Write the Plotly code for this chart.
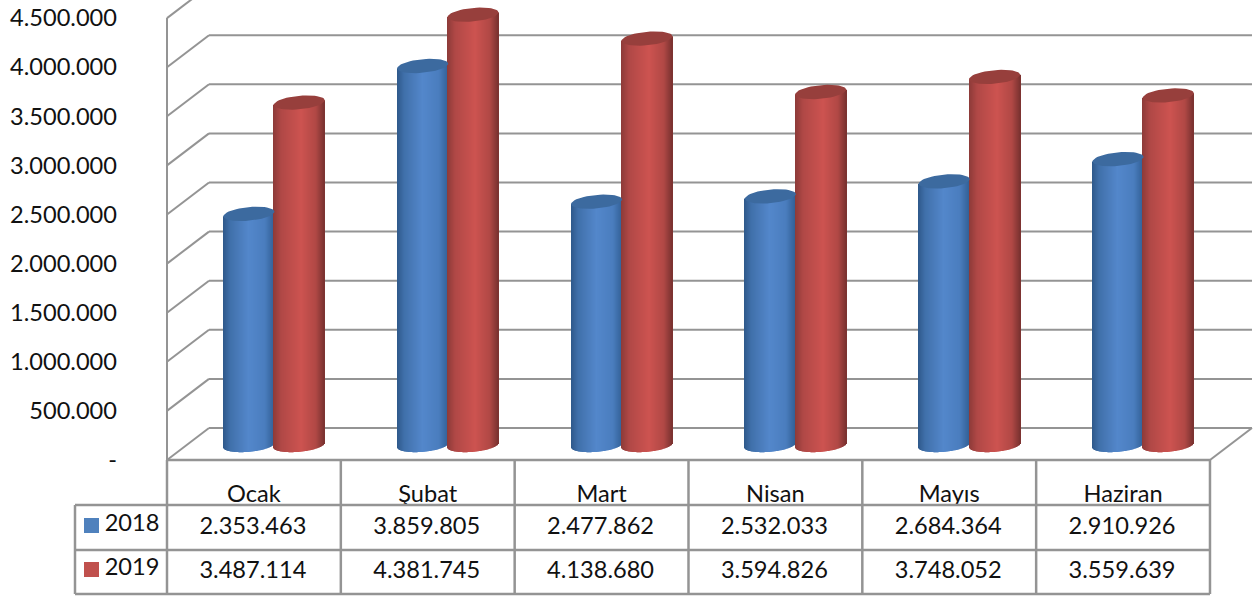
import numpy as np
import plotly.graph_objects as go

# ---- data ----
months = ["Ocak", "Şubat", "Mart", "Nisan", "Mayıs", "Haziran"]
values_2018 = [2353463, 3859805, 2477862, 2532033, 2684364, 2910926]
values_2019 = [3487114, 4381745, 4138680, 3594826, 3748052, 3559639]
y_ticks = [0, 500000, 1000000, 1500000, 2000000, 2500000, 3000000, 3500000, 4000000, 4500000]

W, H = 1258, 597
FONT = "Lato"
FS = 23.6
TXT = "#111111"
GRID = "#949494"
X0, CATW = 167.0, 173.83          # pixel of front-left corner, width of one category
Y0, PER = 460.0, 49.1 / 500000    # pixel of value 0 on the front plane, pixels per unit
DX, DY = 42.0, 32.0               # depth of the chart box


def fmt(v):
    return f"{v:,}".replace(",", ".")


def cat(px):
    """pixel x -> category coordinate"""
    return (px - X0) / CATW - 0.5


def val(py):
    """pixel y -> value coordinate"""
    return (Y0 - py) / PER


fig = go.Figure()


def ramp(stops, t):
    ts = [s[0] for s in stops]
    rgb = [np.interp(t, ts, [s[1][k] for s in stops]) for k in range(3)]
    return "rgb(%d,%d,%d)" % tuple(int(round(c)) for c in rgb)


def cylinders(name, values, centre_px, stops, cap):
    half, b, shear, depth = 25.5, 6.8, 0.09, 15.0
    n = int(half * 2)
    xs, ys, bases, offs, cols = [], [], [], [], []
    capx, capy = [], []
    for i, v in enumerate(values):
        for k in range(n):
            t = (k + 0.5) / n
            dx = (t * 2 - 1) * half
            ell = b * np.sqrt(max(0.0, 1 - (dx / half) ** 2))
            bottom = val(Y0 - depth - shear * dx + ell)
            top = v + val(Y0 - depth - shear * dx)
            xs.append(i)
            ys.append(top - bottom)
            bases.append(bottom)
            offs.append((centre_px + dx - 0.5) / CATW)
            cols.append(ramp(stops, t))
        th = np.linspace(0, 2 * np.pi, 49)
        cx = i + centre_px / CATW
        capx += list(cx + half * np.cos(th) / CATW) + [None]
        capy += list(v + val(Y0 - depth - shear * half * np.cos(th) - b * np.sin(th))) + [None]
    fig.add_trace(go.Bar(name=name, x=xs, y=ys, base=bases, offset=offs, width=1.02 / CATW,
                         marker=dict(color=cols, line=dict(width=0)),
                         hoverinfo="skip", showlegend=False))
    fig.add_trace(go.Scatter(x=capx, y=capy, mode="lines", fill="toself", fillcolor=cap,
                             line=dict(width=0, color=cap), hoverinfo="skip", showlegend=False))


BLUE = [(0, (46, 88, 138)), (0.14, (64, 112, 170)), (0.5, (83, 135, 203)), (0.82, (74, 125, 190)), (1, (50, 96, 150))]
RED = [(0, (140, 58, 56)), (0.16, (176, 72, 70)), (0.55, (205, 83, 80)), (0.84, (176, 72, 69)), (1, (122, 50, 48))]
cylinders("2018", values_2018, -5.0, BLUE, "#3c6a9f")
cylinders("2019", values_2019, 45.3, RED, "#973f3c")

# ---- chart box: wall and floor lines ----
shapes = []


def seg(x0, y0, x1, y1, w=2.0, layer="below"):
    shapes.append(dict(type="line", xref="x", yref="y", x0=cat(x0), y0=val(y0), x1=cat(x1), y1=val(y1),
                       line=dict(color=GRID, width=w), layer=layer))


XR = X0 + CATW * len(months)
for v in y_ticks:
    yf = Y0 - v * PER
    seg(X0, yf, X0 + DX, yf - DY)
    seg(X0 + DX, yf - DY, XR + DX, yf - DY)
seg(X0, Y0 - y_ticks[-1] * PER, X0, Y0)
seg(XR, Y0, XR + DX, Y0 - DY)

# ---- data table ----
R0, R1, R2 = 505.0, 550.0, 594.0
TL = 75.0
seg(X0, Y0, XR, Y0, 2.5)
for i in range(len(months) + 1):
    seg(X0 + CATW * i, Y0, X0 + CATW * i, R2, 2.5, "above")
seg(TL, R0, TL, R2, 2.5)
for r in (R0, R1, R2):
    seg(TL, r, XR, r, 2.5, "above")

for py, col in ((525.5, "#4f81bd"), (569.5, "#c0504d")):
    shapes.append(dict(type="rect", xref="x", yref="y", x0=cat(84), x1=cat(99), y0=val(py - 7.5), y1=val(py + 7.5),
                       fillcolor=col, line=dict(width=0)))

xc = list(range(len(months)))
for py, series in ((528.0, values_2018), (572.0, values_2019)):
    fig.add_trace(go.Scatter(x=[i - 1 / CATW for i in xc], y=[val(py)] * len(xc), text=[fmt(v) for v in series],
                             mode="text", textposition="middle center",
                             textfont=dict(family=FONT, size=FS, color=TXT),
                             hoverinfo="skip", showlegend=False, cliponaxis=False))
fig.add_trace(go.Scatter(x=[cat(132)] * 2, y=[val(525), val(569)], text=["2018", "2019"], mode="text",
                         textposition="middle center", textfont=dict(family=FONT, size=FS, color=TXT),
                         hoverinfo="skip", showlegend=False, cliponaxis=False))

fig.update_layout(
    width=W, height=H, margin=dict(l=0, r=0, t=0, b=0), autosize=False,
    paper_bgcolor="white", plot_bgcolor="white", barmode="overlay", shapes=shapes,
    font=dict(family=FONT, size=FS, color=TXT),
    xaxis=dict(range=[cat(0), cat(W)], domain=[0, 1], showgrid=False, zeroline=False, showline=False,
               ticks="", tickmode="array", tickvals=xc, ticktext=months, tickangle=0,
               anchor="free", position=(H - 477.5) / H, fixedrange=True,
               tickfont=dict(family=FONT, size=FS, color=TXT)),
    yaxis=dict(range=[val(H), val(0)], domain=[0, 1], showgrid=False, zeroline=False, showline=False,
               ticks="", tickmode="array", tickvals=y_ticks,
               ticktext=["-" if v == 0 else fmt(v) for v in y_ticks],
               anchor="free", position=117 / W, fixedrange=True,
               tickfont=dict(family=FONT, size=FS, color=TXT)),
)

fig.write_html("out.html", config=dict(displayModeBar=False),
               post_script="document.body.style.margin='0';document.body.style.overflow='hidden';")
